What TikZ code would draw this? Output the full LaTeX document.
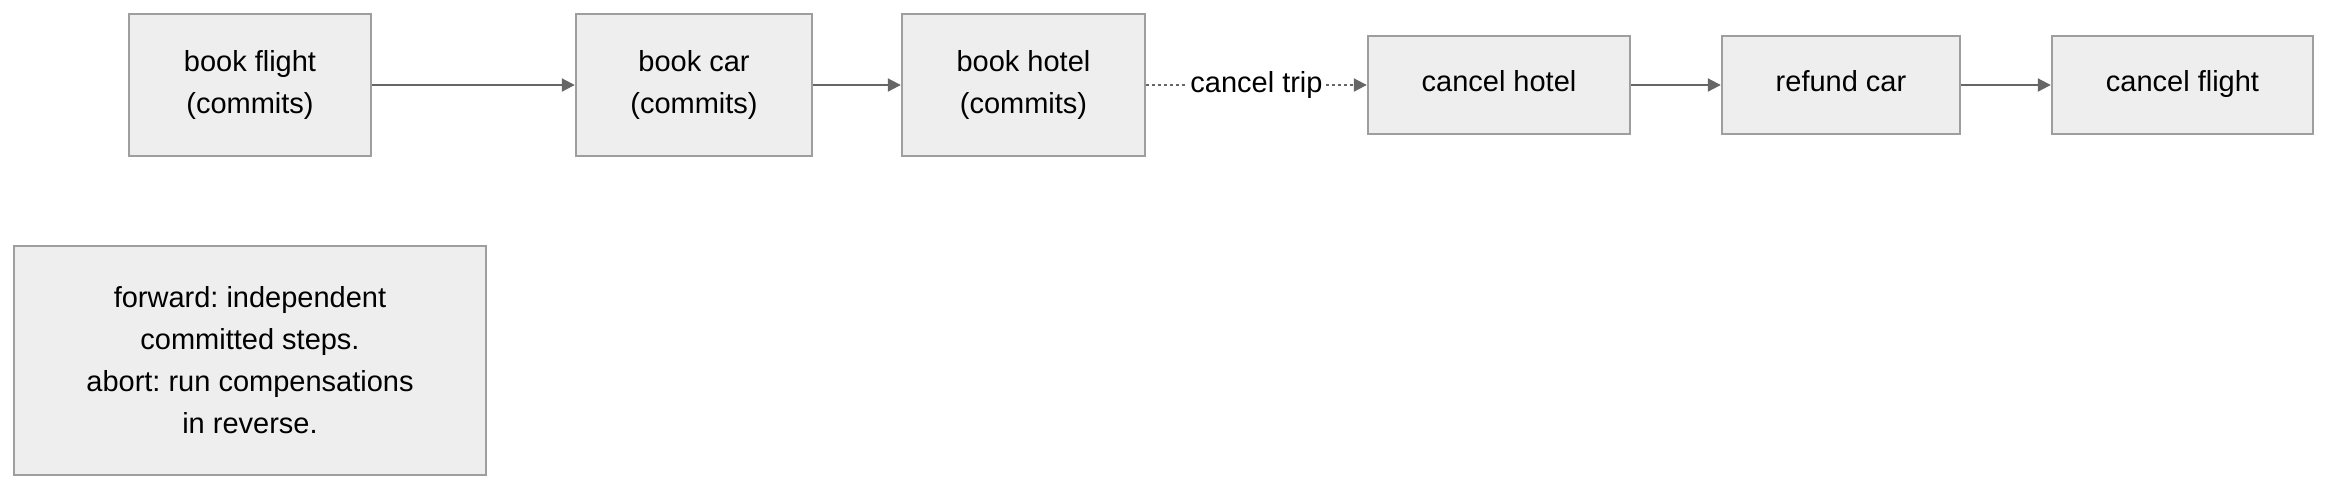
\documentclass[tikz,border=0pt]{standalone}
\usepackage{fontspec}
\setmainfont{Liberation Sans}
\frenchspacing
\usetikzlibrary{arrows.meta}
\definecolor{boxfill}{HTML}{EEEEEE}
\definecolor{boxline}{HTML}{9E9E9E}
\definecolor{arrowc}{HTML}{666666}
\tikzset{
  stepbox/.style={draw=boxline, fill=boxfill, line width=1.2pt, align=center, inner sep=0pt,
     font=\fontsize{14.5}{21}\selectfont},
  onebox/.style={stepbox, text height=0.82em, text depth=0.2em},
  flow/.style={draw=arrowc, line width=1pt, -{Triangle[length=6.5pt,width=6.5pt]}},
  dotflow/.style={flow, dash pattern=on 1.5pt off 1.5pt},
}
\begin{document}
\begin{tikzpicture}[x=0.5pt,y=-0.5pt]
\useasboundingbox (0,0) rectangle (2352,495);
\node[stepbox, minimum width=121pt, minimum height=71pt] (bf) at (250,85) {book flight\\(commits)};
\node[stepbox, minimum width=118pt, minimum height=71pt] (bc) at (694,85) {book car\\(commits)};
\node[stepbox, minimum width=121.5pt, minimum height=71pt] (bh) at (1023.5,85) {book hotel\\(commits)};
\node[onebox, minimum width=131pt, minimum height=49pt] (ch) at (1499,85) {cancel hotel};
\node[onebox, minimum width=119pt, minimum height=49pt] (rc) at (1841,85) {refund car};
\node[onebox, minimum width=130.5pt, minimum height=49pt] (cf) at (2182.5,85) {cancel flight};
\node[stepbox, minimum width=236pt, minimum height=114.5pt] (note) at (250,360.5) {forward: independent\\committed steps.\\abort: run compensations\\in reverse.};
\draw[flow] (bf) -- (bc);
\draw[flow] (bc) -- (bh);
\draw[dotflow] (bh) -- node[fill=white, inner sep=1pt, font=\fontsize{14.5}{21}\selectfont] {cancel trip} (ch);
\draw[flow] (ch) -- (rc);
\draw[flow] (rc) -- (cf);
\end{tikzpicture}
\end{document}
